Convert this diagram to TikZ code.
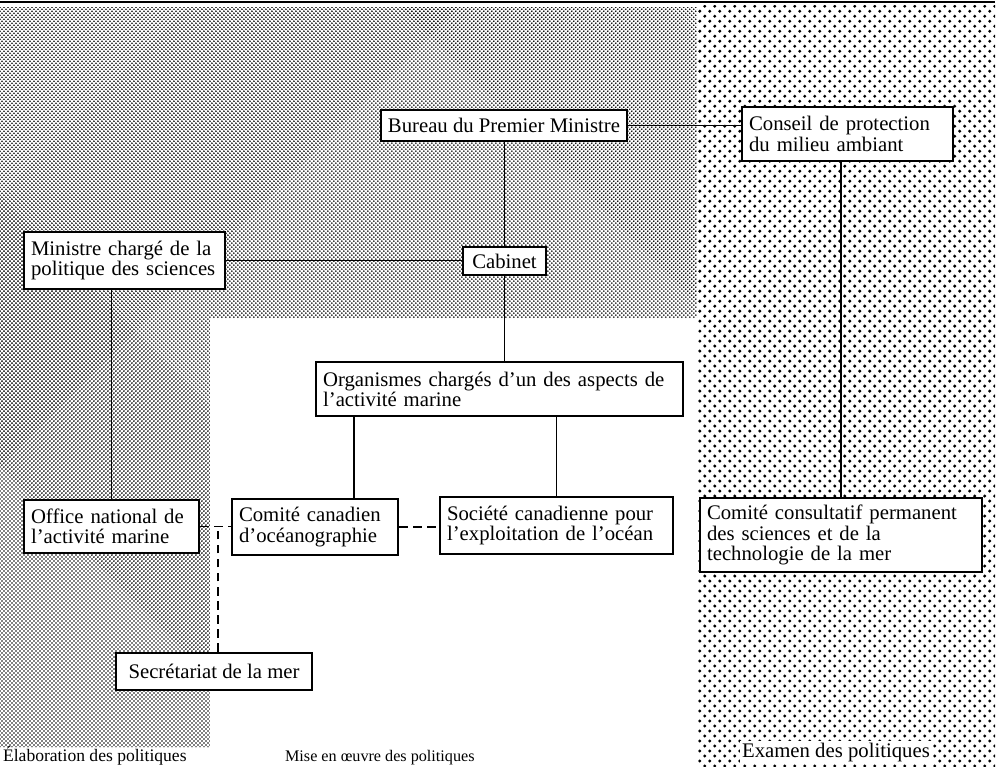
\documentclass[tikz,border=0pt]{standalone}
\usepackage{fontspec}
\setmainfont{Liberation Serif}
\usetikzlibrary{patterns, calc, positioning}

\pgfdeclarepatternformonly{finedots}{\pgfqpoint{-0.7pt}{-0.7pt}}{\pgfqpoint{1.9pt}{1.9pt}}{\pgfqpoint{2.276pt}{2.276pt}}{
	\pgfpathcircle{\pgfqpoint{0pt}{0pt}}{0.52pt}
	\pgfpathcircle{\pgfqpoint{1.138pt}{1.138pt}}{0.52pt}
	\pgfusepath{fill}
}
\pgfdeclarepatternformonly{coarsedots}{\pgfqpoint{-1.1pt}{-1.1pt}}{\pgfqpoint{4pt}{4pt}}{\pgfqpoint{5.69pt}{5.69pt}}{
	\pgfpathcircle{\pgfqpoint{0pt}{0pt}}{0.95pt}
	\pgfpathcircle{\pgfqpoint{2.845pt}{2.845pt}}{0.95pt}
	\pgfusepath{fill}
}

\tikzset{
	box/.style={draw, fill=white, line width=1.5pt, inner xsep=4pt, inner ysep=3pt,
		align=left, font=\fontsize{11.8}{11.5}\selectfont},
	onebox/.style={box, align=center},
	link/.style={draw, line width=1.1pt},
	dlink/.style={link, dash pattern=on 5pt off 3pt},
	area/.style={font=\fontsize{10}{12}\selectfont, inner sep=1pt, anchor=base west}
}

\begin{document}
\begin{tikzpicture}[x=0.02cm, y=-0.02cm]
			\useasboundingbox (0,0) rectangle (1005,771);
			% Shaded areas
			\fill[pattern=finedots] (0,7) -- (697,7) -- (697,318) -- (210,318) -- (210,747) -- (0,747) -- cycle;
			\fill[pattern=coarsedots] (697,5) rectangle (995,766);
			\draw[line width=1.2pt] (0,2) -- (995,2);
			
			% Boxes
			\node[onebox, minimum width=140pt, minimum height=17.6pt] (bureau) at (504,125.5) {Bureau du Premier Ministre};
			\node[box, text width=112pt, minimum height=30.7pt] (conseil) at (847.5,134) {Conseil de protection\\du milieu ambiant};
			\node[onebox, minimum width=47.2pt, minimum height=15.9pt] (cabinet) at (504.5,261) {Cabinet};
			\node[box, text width=106.4pt, minimum height=32.4pt] (ministre) at (124.5,260.5) {Ministre chargé de la\\politique des sciences};
			\node[box, text width=200.8pt, minimum height=30.7pt] (organismes) at (499.5,389) {Organismes chargés d’un des aspects de\\l’activité marine};
			\node[box, text width=91.6pt, minimum height=30.2pt] (office) at (111.5,526.5) {Office national de\\l’activité marine};
			\node[box, text width=86.5pt, minimum height=31.9pt] (comite) at (315,527) {Comité canadien\\d’océanographie};
			\node[box, text width=124.6pt, minimum height=32.4pt] (societe) at (556.5,525.5) {Société canadienne pour\\l’exploitation de l’océan};
			\node[box, text width=152.5pt, minimum height=42.1pt] (consultatif) at (841,535) {Comité consultatif permanent\\des sciences et de la\\technologie de la mer};
			\node[onebox, minimum width=111.5pt, minimum height=21pt] (secretariat) at (214,671.5) {Secrétariat de la mer};
			\coordinate (comitetop) at ($(comite.north west)!0.73!(comite.north east)$);
			\coordinate (secrtop) at ($(secretariat.north west)!0.52!(secretariat.north east)$);
			
			% Labels
			\node[area] (elaboration) at (1,761) {Élaboration des politiques};
			\node[area, font=\fontsize{9.2}{11}\selectfont] (miseoeuvre) at (283,761) {Mise en œuvre des politiques};
			\node[area, fill=white, font=\fontsize{11.8}{13}\selectfont] (examen) at (740,757) {Examen des politiques};
			
			% Connections
			\draw[link] (bureau.east) -- (bureau.east -| conseil.west);
			\draw[link] (cabinet.north) -- (cabinet.north |- bureau.south);
			\draw[link] (ministre.east) -- (ministre.east -| cabinet.west);
			\draw[link] (office.north) -- (office.north |- ministre.south);
			\draw[link] (cabinet.south) -- (cabinet.south |- organismes.north);
			\draw[link] (comitetop) -- (comitetop |- organismes.south);
			\draw[link] (societe.north) -- (societe.north |- organismes.south);
			\draw[link] (consultatif.north) -- (consultatif.north |- conseil.south);
			\draw[dlink] (office.east) -- (office.east -| comite.west);
			\draw[dlink] (comite.east) -- (comite.east -| societe.west);
			\draw[dlink] (secrtop) -- (secrtop |- office.east);
		\end{tikzpicture}
\end{document}
